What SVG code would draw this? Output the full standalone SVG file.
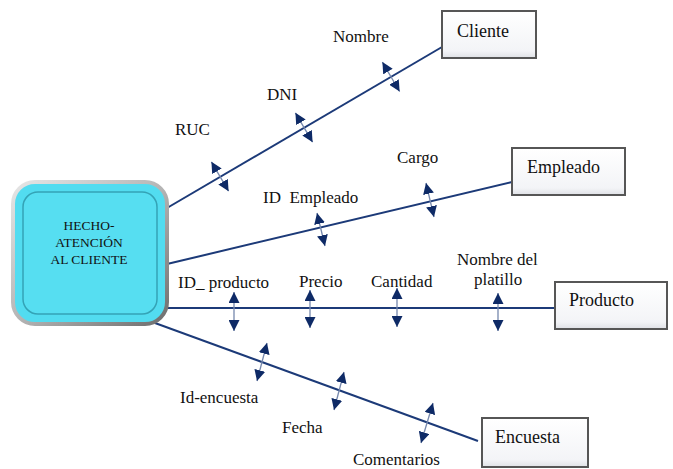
<svg xmlns="http://www.w3.org/2000/svg" width="673" height="469" viewBox="0 0 673 469">
<defs>
<linearGradient id="boxg" x1="0" y1="0" x2="0" y2="1">
<stop offset="0" stop-color="#ffffff"/>
<stop offset="0.85" stop-color="#f3f4f7"/>
<stop offset="1" stop-color="#dfe1e6"/>
</linearGradient>
<linearGradient id="rim" x1="0" y1="0" x2="1" y2="1">
<stop offset="0" stop-color="#e6e6e6"/>
<stop offset="0.5" stop-color="#b5b5b5"/>
<stop offset="1" stop-color="#6e6e6e"/>
</linearGradient>
<marker id="ah" viewBox="0 0 12 12" markerUnits="userSpaceOnUse" markerWidth="11" markerHeight="11" refX="12" refY="6" orient="auto-start-reverse">
<path d="M0,0 L12,6 L0,12 z" fill="#0e2a66"/>
</marker>
</defs>
<style>
.conn{stroke:#1c3a78;stroke-width:2;fill:none}
.dbl{stroke:#7688ad;stroke-width:1.3;fill:none;marker-start:url(#ah);marker-end:url(#ah)}
.ent{fill:url(#boxg);stroke:#565656;stroke-width:2}
text{font-family:'Liberation Serif','Times New Roman','DejaVu Serif',serif;fill:#111}
.lbl{font-size:17px}
.nlbl{font-size:18px}
.clbl{font-size:13.5px;text-anchor:middle}
</style>
<g id="connectors">
<line class="conn" x1="167" y1="208" x2="442" y2="47"/>
<line class="conn" x1="167" y1="264" x2="512" y2="182"/>
<line class="conn" x1="166" y1="308" x2="555" y2="308"/>
<line class="conn" x1="155" y1="323" x2="478" y2="441"/>
<line class="dbl" x1="211.4" y1="161.8" x2="228.6" y2="191.2"/>
<line class="dbl" x1="295.4" y1="112.8" x2="312.6" y2="142.2"/>
<line class="dbl" x1="382.4" y1="62.1" x2="399.6" y2="91.5"/>
<line class="dbl" x1="317" y1="213" x2="325" y2="246"/>
<line class="dbl" x1="426" y1="183" x2="434" y2="217"/>
<line class="dbl" x1="234" y1="292" x2="234" y2="331"/>
<line class="dbl" x1="310" y1="290" x2="310" y2="328"/>
<line class="dbl" x1="397" y1="288" x2="397" y2="327"/>
<line class="dbl" x1="498" y1="293" x2="498" y2="331"/>
<line class="dbl" x1="267" y1="343" x2="257" y2="381"/>
<line class="dbl" x1="344" y1="372" x2="334" y2="410"/>
<line class="dbl" x1="433" y1="403" x2="421" y2="443"/>
</g>
<g id="hecho">
<rect x="13" y="182" width="154" height="142" rx="22" fill="#52dcf0" stroke="url(#rim)" stroke-width="4"/>
<rect x="23" y="192" width="134" height="122" rx="15" fill="#56def1" stroke="#34a3b6" stroke-width="1.5"/>
<text class="clbl" x="89" y="230">HECHO-</text>
<text class="clbl" x="89" y="247">ATENCIÓN</text>
<text class="clbl" x="89" y="264">AL CLIENTE</text>
</g>
<g id="cliente">
<rect class="ent" x="442" y="11" width="94" height="47"/>
<text class="nlbl" x="457" y="37">Cliente</text>
</g>
<g id="empleado">
<rect class="ent" x="512" y="148" width="113" height="47"/>
<text class="nlbl" x="527" y="173">Empleado</text>
</g>
<g id="producto">
<rect class="ent" x="555" y="282" width="112" height="47"/>
<text class="nlbl" x="569" y="306">Producto</text>
</g>
<g id="encuesta">
<rect class="ent" x="482" y="418" width="106" height="49"/>
<text class="nlbl" x="495" y="443">Encuesta</text>
</g>
<g id="labels">
<text class="lbl" x="333" y="42">Nombre</text>
<text class="lbl" x="267" y="100">DNI</text>
<text class="lbl" x="175" y="135">RUC</text>
<text class="lbl" x="397" y="163">Cargo</text>
<text class="lbl" x="263" y="203" xml:space="preserve">ID  Empleado</text>
<text class="lbl" x="178" y="288">ID_ producto</text>
<text class="lbl" x="299" y="287">Precio</text>
<text class="lbl" x="371" y="287">Cantidad</text>
<text class="lbl" x="457" y="265">Nombre del</text>
<text class="lbl" x="474" y="285">platillo</text>
<text class="lbl" x="180" y="403">Id-encuesta</text>
<text class="lbl" x="282" y="433">Fecha</text>
<text class="lbl" x="353" y="465">Comentarios</text>
</g>
</svg>
